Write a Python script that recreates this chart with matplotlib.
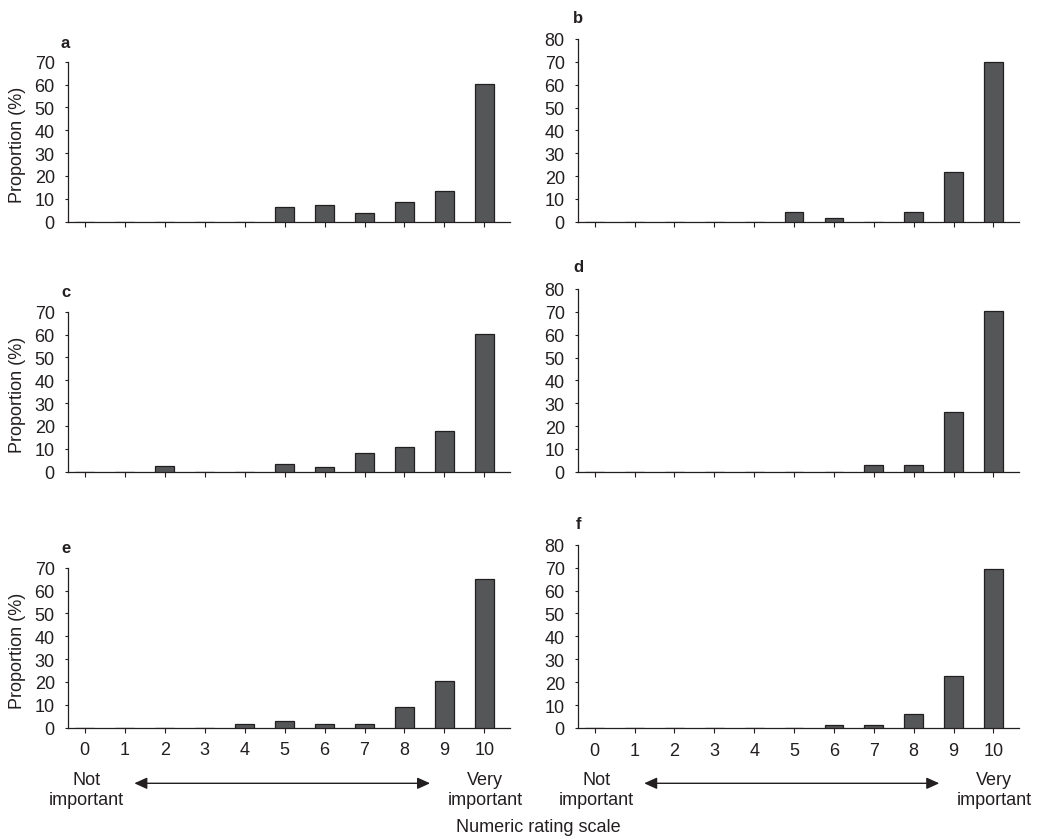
import matplotlib

matplotlib.use("Agg")

import matplotlib.pyplot as plt
from matplotlib.transforms import blended_transform_factory

plt.rcParams["font.family"] = ["Liberation Sans", "DejaVu Sans"]

FIG_W, FIG_H = 1041, 837
INK = "#231f20"
BAR_FILL = "#555657"
FS = 13

ratings = list(range(11))
rating_labels = [str(r) for r in ratings]

panel_letters = ["a", "b", "c", "d", "e", "f"]
panel_values = {
    "a": [0, 0, 0, 0, 0, 6.3, 7.4, 3.9, 8.6, 13.6, 60.2],
    "b": [0, 0, 0, 0, 0, 4.4, 1.7, 0, 4.4, 21.9, 70.1],
    "c": [0, 0, 2.3, 0, 0, 3.4, 1.9, 8.3, 10.9, 17.9, 60.2],
    "d": [0, 0, 0, 0, 0, 0, 0, 2.8, 2.8, 26.0, 70.4],
    "e": [0, 0, 0, 0, 1.7, 2.9, 1.7, 1.5, 9.2, 20.6, 65.0],
    "f": [0, 0, 0, 0, 0, 0, 1.5, 1.5, 6.1, 22.5, 69.4],
}
y_max = {"a": 70, "b": 80, "c": 70, "d": 80, "e": 70, "f": 80}

# pixel boxes: left, right, y of top tick, y of zero line
boxes = {
    "a": (68, 510, 62.7, 222.7),
    "b": (578, 1019, 40.0, 222.7),
    "c": (68, 510, 312.7, 472.7),
    "d": (578, 1019, 290.0, 472.7),
    "e": (68, 510, 568.7, 728.7),
    "f": (578, 1019, 545.7, 729.0),
}
# panel letter centre x and baseline y, pixels
letter_pos = {
    "a": (65.5, 48.0),
    "b": (578.0, 23.3),
    "c": (65.5, 297.3),
    "d": (578.0, 271.7),
    "e": (65.5, 553.3),
    "f": (578.0, 529.3),
}


def fx(px):
    return px / FIG_W


def fy(py):
    return 1 - py / FIG_H


def add_panel(fig, letter):
    left, right, top, bottom = boxes[letter]
    ax = fig.add_axes([fx(left), fy(bottom), (right - left) / FIG_W, (bottom - top) / FIG_H])
    ax.bar(ratings, panel_values[letter], width=0.47, color=BAR_FILL, edgecolor=INK, linewidth=0.9, zorder=3)
    ax.set_xlim(-0.42, 10.64)
    ax.set_ylim(0, y_max[letter])
    ax.set_yticks(range(0, y_max[letter] + 1, 10))
    ax.set_xticks(ratings)
    bottom_row = letter in ("e", "f")
    ax.set_xticklabels(rating_labels if bottom_row else [])
    for side in ("top", "right"):
        ax.spines[side].set_visible(False)
    for side in ("left", "bottom"):
        ax.spines[side].set_color(INK)
        ax.spines[side].set_linewidth(0.9)
    ax.tick_params(axis="x", direction="out", length=3.6, width=0.8, pad=6.3, colors=INK, labelsize=FS)
    ax.tick_params(axis="y", direction="out", length=2.5, width=0.8, pad=7, colors=INK, labelsize=FS)
    if letter in ("a", "c", "e"):
        fig.text(fx(17.5), fy((top + bottom) / 2 + 2), "Proportion (%)", rotation=90, fontsize=FS,
                 color=INK, ha="center", va="center")
    lx, ly = letter_pos[letter]
    fig.text(fx(lx), fy(ly), letter, fontsize=12, fontweight="bold", color=INK, ha="center", va="baseline")

    if bottom_row:
        trans = blended_transform_factory(ax.transData, fig.transFigure)
        # baseline of the second line ("important")
        y_txt = fy(805)
        ax.text(0.05, y_txt, "Not\nimportant", transform=trans, ha="center", va="baseline",
                fontsize=FS, color=INK, linespacing=1.25, clip_on=False)
        ax.text(10.02, y_txt, "Very\nimportant", transform=trans, ha="center", va="baseline",
                fontsize=FS, color=INK, linespacing=1.25, clip_on=False)
        y_arrow = fy(784.3)
        ax.annotate("", xy=(8.64, y_arrow), xytext=(1.24, y_arrow), xycoords=trans, textcoords=trans,
                    arrowprops=dict(arrowstyle="<|-|>,head_length=0.55,head_width=0.25", color=INK, lw=1.0,
                                    mutation_scale=14, shrinkA=0, shrinkB=0), annotation_clip=False)
    return ax


fig = plt.figure(figsize=(FIG_W / 100, FIG_H / 100), dpi=100)
for letter in panel_letters:
    add_panel(fig, letter)

fig.text(fx(538), fy(831.7), "Numeric rating scale", fontsize=FS, color=INK, ha="center", va="baseline")

fig.savefig("out.png", dpi=100)
